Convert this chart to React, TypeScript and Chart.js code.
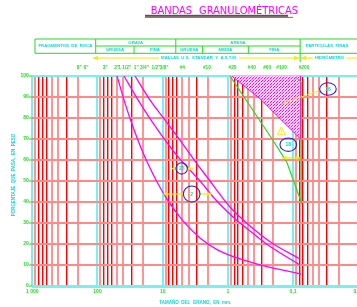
import React, { useEffect, useRef } from 'react';
import { Chart, registerables } from 'chart.js';

Chart.register(...registerables);

// ---------- DATA (size in mm, percent passing) ----------
const lowerSizes = [50.2, 37.9, 28.5, 21.5, 16.2, 12.2, 8.59, 4.88, 2.68, 1.42, 0.652, 0.27, 0.143, 0.0756];
const lowerPct = [100, 87.1, 75.7, 65.7, 57.1, 49.5, 41.4, 31, 22.9, 17.1, 12.9, 9.5, 7.6, 5.7];
const midSizes = [39.2, 22.3, 12.2, 6.48, 3.81, 2.59, 1.58, 0.835, 0.458, 0.243, 0.0784];
const midPct = [100, 87.1, 74.8, 63.3, 55.2, 49.5, 41.4, 32.9, 26.2, 19.5, 10];
const upperSizes = [26.6, 15.7, 9.22, 5.43, 3.2, 2.09, 0.929, 0.458, 0.211, 0.0784];
const upperPct = [100, 88.6, 79, 69.5, 59.5, 51.9, 37.6, 28.6, 20.5, 12.9];
const greenSizes = [0.93, 0.21, 0.125, 0.075, 0.075, 0.09];
const greenPct = [100, 70, 59, 40, 97, 99.5];
const zoneSizes = [0.874, 0.322, 0.077, 0.077];
const zonePct = [100, 89.2, 70, 100];

// ---------- AXES ----------
const decadeStarts = [0.01, 0.1, 1, 10, 100];
const multipliers = [1, 2, 3, 4, 5, 6, 7, 8, 9];
const brightMultipliers = [3, 6, 7, 8];
const yGridValues = [0, 10, 20, 30, 40, 50, 60, 70, 80, 90, 100];
const yTickLabels = ['0', '10', '20', '30', '40', '50', '60', '70', '80', '90', '100'];
const xTickValues = [1000, 100, 10, 1, 0.1, 0.01];
const xTickLabels = ['1 000', '100', '10', '1', '0,1', '0,01'];

// ---------- SIEVES ----------
const sieveLabels = ['8"', '6"', '3"', '2"', '1 1/2"', '1"', '3/4"', '1/2"', '3/8"', '#4', '#10', '#20', '#40', '#60', '#100', '#200'];
const sieveSizes = [190, 150, 76.2, 50.8, 38.1, 25.4, 19.05, 12.7, 9.525, 5.0, 2.1, 0.85, 0.43, 0.25, 0.15, 0.068];

// ---------- HEADER (boundaries in mm) ----------
const hdrLeft = 909;
const hdrRockGravel = 106.6;
const hdrGravelSplit = 27.5;
const hdrGravelSand = 6.3;
const hdrSandSplit1 = 2.44;
const hdrSandSplit2 = 0.486;
const hdrSandFines = 0.078;
const hdrRight = 0.004;

// ---------- ANNOTATIONS ----------
const circleLabels = ['16', '18', '25', '2'];
const circleSizes = [0.0292, 0.1185, 5.11, 3.59];
const circlePct = [93.8, 67.3, 56.0, 43.8];
const circleRx = [8.3, 8.3, 5.7, 8.3];
const circleRy = [6.2, 6.7, 5.7, 8];
const arrowFrom = [0.148, 7.2, 9.79];
const arrowTo = [0.0775, 3.43, 1.77];
const arrowPct = [61, 56, 43.8];
const arrowCircle = [-1, 2, 3];

const MAGENTA = '#ff00ff';
const GREEN = '#22dd22';
const CYAN = '#10d4d4';
const YELLOW = '#eeee00';
const BLUE = '#2424d8';

function pts(xs: number[], ys: number[]) {
  return xs.map((x, i) => ({ x, y: ys[i] }));
}

function sigOf(v: number) {
  const e = Math.floor(Math.log10(v) + 1e-9);
  return Math.round(v / Math.pow(10, e));
}

function head(ctx: CanvasRenderingContext2D, x: number, y: number, dir: number, s: number) {
  ctx.beginPath();
  ctx.moveTo(x, y);
  ctx.lineTo(x - dir * s, y - s * 0.45);
  ctx.lineTo(x - dir * s, y + s * 0.45);
  ctx.closePath();
  ctx.fill();
}

const SMALL = '"Liberation Sans", "DejaVu Sans", sans-serif';

const annotPlugin = {
  id: 'annot',
  afterDraw(chart: any) {
    const ctx: CanvasRenderingContext2D = chart.ctx;
    const xs = chart.scales.x;
    const ys = chart.scales.y;
    const X = (v: number) => xs.getPixelForValue(v);
    const Y = (p: number) => ys.getPixelForValue(p);
    const area = chart.chartArea;
    ctx.save();

    // Title
    ctx.fillStyle = MAGENTA;
    ctx.font = '11px "Liberation Sans Narrow", "DejaVu Sans Condensed", sans-serif';
    ctx.textAlign = 'left';
    ctx.textBaseline = 'alphabetic';
    ctx.fillText('BANDAS', 150.7, 13.5);
    ctx.fillText('GRANULOMÉTRICAS', 199, 13.5);
    ctx.fillStyle = '#555555';
    ctx.fillRect(145, 14.8, 143, 2);
    ctx.fillStyle = '#ff2020';
    ctx.fillRect(145, 16.9, 148, 0.9);

    // Header table
    const r0 = 39, r1 = 46, r2 = 53.3;
    ctx.strokeStyle = GREEN;
    ctx.lineWidth = 1;
    const hl = (x1: number, x2: number, y: number) => { ctx.beginPath(); ctx.moveTo(x1, y); ctx.lineTo(x2, y); ctx.stroke(); };
    const vl = (x: number, y1: number, y2: number) => { ctx.beginPath(); ctx.moveTo(x, y1); ctx.lineTo(x, y2); ctx.stroke(); };
    hl(X(hdrLeft), X(hdrRight), r0);
    hl(X(hdrLeft), X(hdrRight), r2);
    hl(X(hdrRockGravel), X(hdrSandFines), r1);
    vl(X(hdrLeft), r0, r2);
    vl(X(hdrRockGravel), r0, r2);
    vl(X(hdrGravelSand), r0, r2);
    vl(X(hdrSandFines), r0, 62);
    vl(X(hdrGravelSplit), r1, r2);
    vl(X(hdrSandSplit1), r1, r2);
    vl(X(hdrSandSplit2), r1, r2);

    ctx.fillStyle = CYAN;
    ctx.font = 'bold 4.3px ' + SMALL;
    ctx.textAlign = 'center';
    ctx.textBaseline = 'middle';
    const cx = (a: number, b: number) => (X(a) + X(b)) / 2;
    ctx.fillText('FRAGMENTOS  DE  ROCA', cx(hdrLeft, hdrRockGravel), (r0 + r2) / 2);
    ctx.fillText('GRAVA', cx(hdrRockGravel, hdrGravelSand), (r0 + r1) / 2);
    ctx.fillText('ARENA', cx(hdrGravelSand, hdrSandFines), (r0 + r1) / 2);
    ctx.fillText('GRUESA', cx(hdrRockGravel, hdrGravelSplit), (r1 + r2) / 2);
    ctx.fillText('FINA', cx(hdrGravelSplit, hdrGravelSand), (r1 + r2) / 2);
    ctx.fillText('GRUESA', cx(hdrGravelSand, hdrSandSplit1), (r1 + r2) / 2);
    ctx.fillText('MEDIA', cx(hdrSandSplit1, hdrSandSplit2), (r1 + r2) / 2);
    ctx.fillText('FINA', cx(hdrSandSplit2, hdrSandFines), (r1 + r2) / 2);
    ctx.fillText('PARTICULAS  FINAS', 327, (r0 + r2) / 2);

    // Mallas / Hidrometro row
    const my = 58;
    const mallasText = 'MALLAS  U.S.  STANDAR  Y  A.S.T.M.';
    const mallasX = 199;
    const tw = ctx.measureText(mallasText).width;
    ctx.strokeStyle = YELLOW;
    ctx.fillStyle = YELLOW;
    ctx.lineWidth = 1.2;
    const xa = X(117), xb = X(hdrSandFines) - 1;
    hl(xa, mallasX - tw / 2 - 2, my);
    hl(mallasX + tw / 2 + 2, xb, my);
    head(ctx, xa, my, -1, 5);
    head(ctx, xb, my, 1, 5);
    const hx = 329.5;
    const hText = 'HIDRÓMETRO';
    const hw = ctx.measureText(hText).width;
    hl(X(hdrSandFines) + 1, hx - hw / 2 - 2, my);
    hl(hx + hw / 2 + 2, 400, my);
    head(ctx, X(hdrSandFines) + 1, my, -1, 5);
    ctx.fillStyle = CYAN;
    ctx.fillText(mallasText, mallasX, my);
    ctx.fillText(hText, hx, my);

    // Sieve labels
    ctx.fillStyle = GREEN;
    ctx.font = 'bold 4.8px ' + SMALL;
    sieveLabels.forEach((s, i) => ctx.fillText(s, X(sieveSizes[i]), 68));

    // Y tick labels + marks
    ctx.textAlign = 'right';
    ctx.font = 'bold 5px ' + SMALL;
    ctx.strokeStyle = GREEN;
    ctx.lineWidth = 1;
    yGridValues.forEach((v, i) => {
      const y = Y(v);
      ctx.fillText(yTickLabels[i], area.left - 3.5, y);
      hl(area.left - 3.5, area.left, y);
    });
    // X tick labels
    ctx.textAlign = 'center';
    xTickValues.forEach((v, i) => {
      const x = X(v);
      ctx.fillText(xTickLabels[i], x, area.bottom + 6);
    });

    // Axis titles
    ctx.fillStyle = CYAN;
    ctx.font = 'bold 4.5px ' + SMALL;
    ctx.fillText('TAMAÑO  DEL  GRANO,  EN  mm.', (area.left + area.right) / 2, area.bottom + 16.5);
    ctx.save();
    ctx.translate(14, 175);
    ctx.rotate(-Math.PI / 2);
    ctx.fillText('PORCENTAJE  QUE  PASA,  EN  PESO', 0, 0);
    ctx.restore();

    // Arrows
    ctx.strokeStyle = YELLOW;
    ctx.fillStyle = YELLOW;
    ctx.lineWidth = 1.2;
    arrowFrom.forEach((a, i) => {
      const x1 = X(a), x2 = X(arrowTo[i]), y = Y(arrowPct[i]);
      const ci = arrowCircle[i];
      if (ci >= 0) {
        const ccx = X(circleSizes[ci]);
        hl(x1, ccx - circleRx[ci], y);
        hl(ccx + circleRx[ci], x2, y);
      } else {
        hl(x1, x2, y);
      }
      head(ctx, x1, y, -1, 4.5);
      head(ctx, x2, y, 1, 4.5);
    });

    // Leader to zone
    const c0x = X(circleSizes[0]), c0y = Y(circlePct[0]);
    const lx = X(0.133), ly = Y(87.3);
    ctx.lineWidth = 1;
    ctx.beginPath();
    ctx.moveTo(c0x - circleRx[0], c0y + 1.5);
    ctx.lineTo(lx, ly);
    ctx.stroke();
    ctx.beginPath();
    ctx.moveTo(lx - 2, ly + 1.5);
    ctx.lineTo(lx + 2, ly + 1.5);
    ctx.lineTo(lx, ly - 2);
    ctx.closePath();
    ctx.fill();

    // Warning triangle
    const wx = X(0.152), wy = Y(73.8);
    ctx.lineWidth = 1;
    ctx.beginPath();
    ctx.moveTo(wx, wy - 4.2);
    ctx.lineTo(wx + 4, wy + 3.8);
    ctx.lineTo(wx - 4, wy + 3.8);
    ctx.closePath();
    ctx.stroke();
    ctx.fillRect(wx - 0.5, wy - 1.5, 1, 3);
    ctx.fillRect(wx - 0.5, wy + 2, 1, 1);

    // Circles
    circleLabels.forEach((lab, i) => {
      const x = X(circleSizes[i]), y = Y(circlePct[i]);
      ctx.strokeStyle = BLUE;
      ctx.lineWidth = 1.1;
      ctx.beginPath();
      ctx.ellipse(x, y, circleRx[i], circleRy[i], 0, 0, Math.PI * 2);
      ctx.stroke();
      ctx.fillStyle = CYAN;
      ctx.font = 'bold 5px ' + SMALL;
      ctx.textAlign = 'center';
      ctx.textBaseline = 'middle';
      ctx.fillText(lab, x, y + 0.3);
    });

    ctx.restore();
  },
};

export default function App() {
  const ref = useRef<HTMLCanvasElement | null>(null);

  useEffect(() => {
    const canvas = ref.current;
    if (!canvas) return;
    const pc = document.createElement('canvas');
    pc.width = 3;
    pc.height = 3;
    const pctx = pc.getContext('2d')!;
    pctx.fillStyle = '#ffd8ff';
    pctx.fillRect(0, 0, 3, 3);
    pctx.fillStyle = MAGENTA;
    pctx.fillRect(0, 0, 1, 1);
    pctx.fillRect(1, 2, 1, 1);
    pctx.fillStyle = '#ff80ff';
    pctx.fillRect(2, 1, 1, 1);
    const pattern = canvas.getContext('2d')!.createPattern(pc, 'repeat');

    const xGridValues: number[] = [1000];
    decadeStarts.forEach((d) => multipliers.forEach((m) => xGridValues.push(d * m)));

    const curveStyle = { borderColor: MAGENTA, borderWidth: 1.3, pointRadius: 0, fill: false, cubicInterpolationMode: 'monotone' };

    const chart = new Chart(canvas, {
      type: 'line',
      data: {
        datasets: [
          { data: pts(lowerSizes, lowerPct), ...curveStyle },
          { data: pts(midSizes, midPct), ...curveStyle },
          { data: pts(upperSizes, upperPct), ...curveStyle },
          { data: pts(greenSizes, greenPct), borderColor: '#22dd22', borderWidth: 1.2, pointRadius: 0, fill: false, tension: 0 },
          { data: pts(zoneSizes, zonePct), borderColor: MAGENTA, borderWidth: 1, pointRadius: 0, fill: 'shape', backgroundColor: pattern as any, tension: 0 },
        ] as any,
      },
      options: {
        animation: false,
        responsive: false,
        devicePixelRatio: 1,
        layout: { padding: { left: 32.3, right: 400 - 358.3, top: 76, bottom: 307 - 286 } },
        plugins: { legend: { display: false }, tooltip: { enabled: false } },
        scales: {
          x: {
            type: 'logarithmic',
            reverse: true,
            min: 0.01,
            max: 1000,
            afterBuildTicks: (s: any) => { s.ticks = xGridValues.map((v) => ({ value: v })); },
            afterFit: (s: any) => { s.height = 0; },
            ticks: { display: false },
            border: { display: false },
            grid: {
              drawTicks: false,
              color: (c: any) => {
                const sg = sigOf(c.tick.value);
                if (sg === 1 || sg === 10) return '#78f0f0';
                return brightMultipliers.includes(sg) ? '#ff0000' : '#ff9494';
              },
              lineWidth: (c: any) => {
                const sg = sigOf(c.tick.value);
                if (sg === 1 || sg === 10) return 2;
                return brightMultipliers.includes(sg) ? 1.4 : 2;
              },
            },
          },
          y: {
            type: 'linear',
            min: 0,
            max: 100,
            afterBuildTicks: (s: any) => { s.ticks = yGridValues.map((v) => ({ value: v })); },
            afterFit: (s: any) => { s.width = 0; },
            ticks: { display: false },
            border: { display: false },
            grid: {
              drawTicks: false,
              color: (c: any) => (c.tick.value === 0 || c.tick.value === 100 ? '#78f0f0' : '#ff8888'),
              lineWidth: (c: any) => (c.tick.value === 0 ? 3 : 2),
            },
          },
        },
      } as any,
      plugins: [annotPlugin],
    });
    return () => chart.destroy();
  }, []);

  return (
    <div style={{ position: 'absolute', left: 0, top: 0, width: 357, height: 307, overflow: 'hidden', background: '#fff' }}>
      <canvas ref={ref} width={400} height={307} style={{ width: 400, height: 307, display: 'block' }} />
    </div>
  );
}
